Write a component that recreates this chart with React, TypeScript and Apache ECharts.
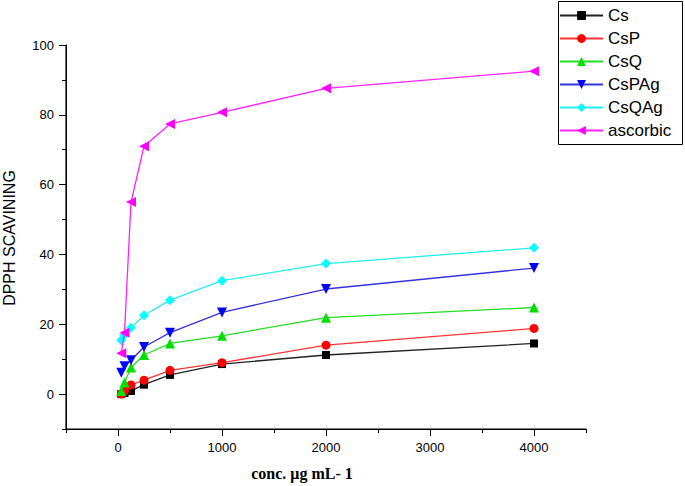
import React, { useEffect, useRef } from "react";
import * as echarts from "echarts";

const concentrations = [31.25, 62.5, 125, 250, 500, 1000, 2000, 4000];
const seriesNames = ["Cs", "CsP", "CsQ", "CsPAg", "CsQAg", "ascorbic"];
const csValues = [0, 0.3, 0.9, 2.7, 5.5, 8.6, 11.2, 14.5];
const cspValues = [0, 0.9, 2.6, 4.0, 6.8, 9.0, 14.0, 18.8];
const csqValues = [0.9, 3.3, 7.6, 11.2, 14.5, 16.7, 21.9, 24.8];
const cspagValues = [6.1, 8.0, 9.7, 13.5, 17.6, 23.4, 30.1, 36.1];
const csqagValues = [15.4, 17.0, 19.0, 22.6, 26.9, 32.5, 37.4, 41.9];
const ascorbicValues = [11.7, 17.6, 55.0, 71.0, 77.4, 80.7, 87.6, 92.5];

const xRange = [-500, 4500];
const yRange = [-10, 100];
const yMajorTicks = [0, 20, 40, 60, 80, 100];
const yMinorTicks = [-10, 10, 30, 50, 70, 90];
const xMajorTicks = [0, 1000, 2000, 3000, 4000];
const xMinorTicks = [-500, 500, 1500, 2500, 3500, 4500];

const yTitle = "DPPH SCAVINING";
const xTitle = "conc. \u03bcg mL- 1";

const allValues = [csValues, cspValues, csqValues, cspagValues, csqagValues, ascorbicValues];
const colors = ["#000000", "#ff0000", "#00e000", "#0000ff", "#00ffff", "#ff00ff"];
const lineColors = ["#222222", "#ff3333", "#22dd22", "#3333dd", "#22eeee", "#ff22ff"];
const symbols = [
  "rect",
  "circle",
  "triangle",
  "path://M0,0L10,0L5,10Z",
  "diamond",
  "path://M10,0L10,10L0,5Z",
];
const symbolSizes = [8, 9, 10, 10, 10, 10];

const SANS = '"Liberation Sans", Arial, sans-serif';

const W = 685;
const H = 486;

export default function App() {
  const ref = useRef<HTMLDivElement>(null);
  useEffect(() => {
    if (!ref.current) return;
    const chart = echarts.init(ref.current, undefined, { renderer: "svg" });
    const line = { show: true, onZero: false, lineStyle: { color: "#000000", width: 1 } };
    const frame = [
      [xRange[0], yRange[1]],
      [xRange[0], yRange[0]],
      [xRange[1], yRange[0]],
    ];
    chart.setOption({
      animation: false,
      backgroundColor: "#ffffff",
      grid: {
        left: 66,
        right: 99,
        top: 45,
        bottom: 57,
        containLabel: false,
        outerBoundsMode: "none",
      },
      xAxis: [
        {
          type: "value",
          min: xRange[0],
          max: xRange[1],
          interval: 500,
          position: "bottom",
          splitLine: { show: false },
          axisLine: line,
          axisTick: { show: true, length: 7, inside: false, customValues: xMajorTicks, lineStyle: { color: "#000" } },
          axisLabel: {
            show: true,
            customValues: xMajorTicks,
            margin: 12,
            color: "#000",
            fontSize: 13,
            fontFamily: SANS,
            formatter: (v: number) => (v >= 0 && v % 1000 === 0 ? String(v) : ""),
          },
        },
        {
          type: "value",
          min: xRange[0],
          max: xRange[1],
          interval: 500,
          position: "bottom",
          splitLine: { show: false },
          axisLine: line,
          axisTick: { show: true, length: 4, customValues: xMinorTicks, lineStyle: { color: "#000" } },
          axisLabel: { show: false },
        },
      ],
      yAxis: [
        {
          type: "value",
          min: yRange[0],
          max: yRange[1],
          interval: 10,
          position: "left",
          splitLine: { show: false },
          axisLine: line,
          axisTick: { show: true, length: 7, customValues: yMajorTicks, lineStyle: { color: "#000" } },
          axisLabel: {
            show: true,
            customValues: yMajorTicks,
            margin: 12,
            color: "#000",
            fontSize: 13,
            fontFamily: SANS,
            formatter: (v: number) => (v % 20 === 0 ? String(v) : ""),
          },
        },
        {
          type: "value",
          min: yRange[0],
          max: yRange[1],
          interval: 10,
          position: "left",
          splitLine: { show: false },
          axisLine: line,
          axisTick: { show: true, length: 4, customValues: yMinorTicks, lineStyle: { color: "#000" } },
          axisLabel: { show: false },
        },
      ],
      legend: {
        orient: "vertical",
        left: 559,
        top: 7,
        padding: 0,
        itemWidth: 43,
        itemHeight: 11,
        itemGap: 6,
        data: seriesNames,
        textStyle: { fontSize: 17, fontFamily: SANS, color: "#000" },
      },
      graphic: [
        {
          type: "rect",
          shape: { x: 558.5, y: 1.5, width: 124, height: 143 },
          style: { fill: "none", stroke: "#000", lineWidth: 1 },
          silent: true,
        },
        {
          type: "text",
          x: 9,
          y: 238,
          rotation: Math.PI / 2,
          style: {
            text: yTitle,
            font: `16px ${SANS}`,
            fill: "#000",
            align: "center",
            verticalAlign: "middle",
          },
        },
        {
          type: "text",
          x: 302,
          y: 473,
          style: {
            text: xTitle,
            font: 'bold 16px "Liberation Serif", "Times New Roman", serif',
            fill: "#000",
            align: "center",
            verticalAlign: "middle",
          },
        },
      ],
      series: [
        {
          name: "axisFrame",
          type: "line",
          xAxisIndex: 0,
          yAxisIndex: 0,
          data: frame,
          symbol: "none",
          silent: true,
          clip: false,
          lineStyle: { color: "#000000", width: 1.2 },
          itemStyle: { color: "#000000" },
          z: 1,
          tooltip: { show: false },
        },
        ...seriesNames.map((name, si) => ({
          name,
          type: "line",
          xAxisIndex: 0,
          yAxisIndex: 0,
          data: concentrations.map((x, i) => [x, allValues[si][i]]),
          symbol: symbols[si],
          symbolSize: symbolSizes[si],
          showAllSymbol: true,
          itemStyle: { color: colors[si] },
          lineStyle: { color: lineColors[si], width: 1.3 },
          z: 2 + si,
        })),
      ],
    });
    return () => chart.dispose();
  }, []);
  return (
    <div
      ref={ref}
      style={{ position: "absolute", left: 0, top: 0, width: W, height: H }}
    />
  );
}
